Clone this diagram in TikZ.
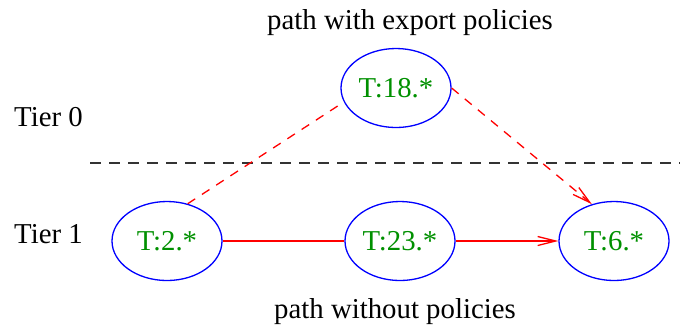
\documentclass[tikz,border=0pt]{standalone}
\usepackage{fontspec}
\setmainfont{Liberation Serif}
\usetikzlibrary{arrows.meta,positioning,shapes.geometric}
\definecolor{nodegreen}{RGB}{0,144,0}
\tikzset{
    %Define standard arrow tip
    >={Straight Barb[length=9pt,width=4.5pt]},
    % Define link style
    link/.style={
           draw=red,
           line width=0.65pt,},
    % Define dashed link style
    dlink/.style={
           link,
           dash pattern=on 4.5pt off 4pt,}
}

\begin{document}
\begin{tikzpicture}[x=0.5pt,y=-0.5pt,
font=\fontsize{14.4}{17}\selectfont,
ovalnode/.style={ellipse, draw=blue, line width=0.65pt, text=nodegreen, minimum width=55pt, minimum height=39.5pt, inner sep=0pt},
tiertext/.style={anchor=base, inner sep=0pt},
]
\useasboundingbox (0,0) rectangle (684,329);
%Nodes
\node[ovalnode](T18) at (396,88){T:18.*};
\node[ovalnode](T2) at (167,241){T:2.*};
\node[ovalnode](T23) at (400,241){T:23.*};
\node[ovalnode](T6) at (614,241){T:6.*};

%Texts
\node[tiertext](tier0) at (48.5,126){Tier 0};
\node[tiertext](tier1) at (48.5,243){Tier 1};
\node[tiertext](withpol) at (410,29){path with export policies};
\node[tiertext](withoutpol) at (395,318){path without policies};

%Tier divider
\coordinate (divL) at (90,163);
\coordinate (divR) at (680,163);
\draw[black!80, line width=0.6pt, dash pattern=on 5.5pt off 4pt] (divL) -- (divR);

%Links
\draw[dlink] (T2.61) -- (T18.195);
\draw[dlink,->] (T18.east) -- (T6.121);
\draw[link] (T2) -- (T23);
\draw[link,->] (T23) -- (T6);

\end{tikzpicture}
\end{document}
